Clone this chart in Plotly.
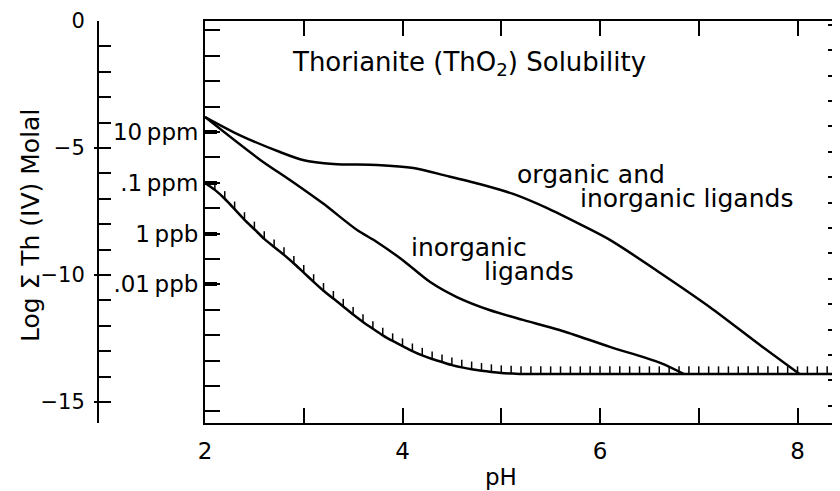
import plotly.graph_objects as go

# lower solubility limit (thorianite alone), read every 0.1 pH
ph_lower = [2.0, 2.1, 2.2, 2.3, 2.4, 2.5, 2.6, 2.7, 2.8, 2.9,
            3.0, 3.1, 3.2, 3.3, 3.4, 3.5, 3.6, 3.7, 3.8, 3.9,
            4.0, 4.1, 4.2, 4.3, 4.4, 4.5, 4.6, 4.7, 4.8, 4.9,
            5.0, 5.1, 5.2, 5.3, 5.4, 5.5, 5.6, 5.7, 5.8, 5.9,
            6.0, 6.1, 6.2, 6.3, 6.4, 6.5, 6.6, 6.7, 6.8, 6.9,
            7.0, 7.1, 7.2, 7.3, 7.4, 7.5, 7.6, 7.7, 7.8, 7.9,
            8.0, 8.1, 8.2, 8.3, 8.4]
log_lower = [-6.38, -6.65, -7.00, -7.41, -7.83, -8.20, -8.58, -8.90, -9.21, -9.55,
             -9.91, -10.27, -10.62, -10.93, -11.24, -11.56, -11.85, -12.12, -12.38, -12.60,
             -12.80, -13.00, -13.17, -13.31, -13.43, -13.55, -13.64, -13.71, -13.77, -13.82,
             -13.86, -13.88, -13.90, -13.90, -13.90, -13.90, -13.90, -13.90, -13.90, -13.90,
             -13.90, -13.90, -13.90, -13.90, -13.90, -13.90, -13.90, -13.90, -13.90, -13.90,
             -13.90, -13.90, -13.90, -13.90, -13.90, -13.90, -13.90, -13.90, -13.90, -13.90,
             -13.90, -13.90, -13.90, -13.90, -13.90]

# organic and inorganic ligands
ph_org = [2.00, 2.35, 2.76, 2.99, 3.30, 3.74, 4.11, 4.45, 4.78, 5.12,
          5.46, 5.80, 6.10, 6.61, 7.11, 7.62, 8.02]
log_org = [-3.78, -4.49, -5.16, -5.47, -5.63, -5.67, -5.79, -6.10, -6.42, -6.81,
           -7.36, -8.01, -8.62, -9.92, -11.26, -12.76, -13.90]

# inorganic ligands only
ph_inorg = [2.00, 2.56, 2.86, 3.19, 3.54, 3.74, 4.00, 4.28, 4.55, 4.88,
            5.22, 5.59, 6.10, 6.61, 6.85]
log_inorg = [-3.78, -5.47, -6.26, -7.17, -8.23, -8.70, -9.41, -10.28, -10.87, -11.38,
             -11.77, -12.17, -12.83, -13.46, -13.90]

ppm_vals = [-4.37, -6.37, -8.37, -10.37]
ppm_text = ['10\u2009ppm', '.1\u2009ppm', '1\u2009ppb', '.01\u2009ppb']

log_ticks = list(range(0, -16, -1))
log_text = ['0' if v == 0 else ('\u2212' + str(-v) if v % 5 == 0 else '') for v in log_ticks]

ph_ticks = [2, 3, 4, 5, 6, 7, 8]
ph_text = ['2', '', '4', '', '6', '', '8']

FONT = 'DejaVu Sans'
YR = [-15.83, 0]

hatch_x, hatch_y = [], []
for x, y in zip(ph_lower[1:], log_lower[1:]):
    hatch_x += [x, x, None]
    hatch_y += [y, y + 0.3, None]

fig = go.Figure()
fig.add_trace(go.Scatter(x=ph_org, y=log_org, mode='lines',
                         line=dict(color='black', width=2.5, shape='spline', smoothing=0.8)))
fig.add_trace(go.Scatter(x=ph_inorg, y=log_inorg, mode='lines',
                         line=dict(color='black', width=2.5, shape='spline', smoothing=0.8)))
fig.add_trace(go.Scatter(x=ph_lower, y=log_lower, mode='lines',
                         line=dict(color='black', width=2.5, shape='spline', smoothing=0.5)))
fig.add_trace(go.Scatter(x=hatch_x, y=hatch_y, mode='lines',
                         line=dict(color='black', width=1.5)))
fig.add_trace(go.Scatter(x=[None], y=[None], yaxis='y2', mode='lines'))
fig.add_trace(go.Scatter(x=[None], y=[None], yaxis='y3', mode='lines'))
fig.add_trace(go.Scatter(x=[None], y=[None], yaxis='y4', mode='lines'))

# page body has an 8px margin, so the figure is sized/offset to compensate
fig.update_layout(
    template='none',
    width=832, height=483,
    margin=dict(l=90, r=0, t=13, b=68),
    paper_bgcolor='white', plot_bgcolor='white',
    showlegend=False,
    font=dict(family=FONT, color='black', size=20),
    xaxis=dict(domain=[0.1442, 1], range=[2, 8.43], showline=True, linecolor='black',
               linewidth=2, mirror='ticks', ticks='inside', ticklen=15, tickwidth=1.5,
               tickcolor='black', tickvals=ph_ticks, ticktext=ph_text, showgrid=False,
               zeroline=False, tickfont=dict(size=23), ticklabelstandoff=6, automargin=False),
    yaxis=dict(range=YR, showline=True, linecolor='black', linewidth=2, ticks='inside',
               ticklen=12, tickwidth=4, tickcolor='black', tickvals=ppm_vals, ticktext=ppm_text,
               minor=dict(tickvals=[-0.37 - i for i in range(16)], ticks='inside', ticklen=15,
                          tickwidth=1.5, tickcolor='black'),
               showgrid=False, zeroline=False, tickfont=dict(size=23), automargin=False),
    yaxis2=dict(overlaying='y', anchor='free', position=0, side='left', range=YR,
                showline=True, linecolor='black', linewidth=2, ticks='inside', ticklen=12,
                tickwidth=1.5, tickcolor='black', tickvals=log_ticks, ticktext=log_text,
                showgrid=False, zeroline=False, tickfont=dict(size=21),
                ticklabelstandoff=8, automargin=False),
    yaxis3=dict(overlaying='y', anchor='free', position=1, side='right', range=YR,
                showline=False, ticks='inside', ticklen=12, tickwidth=1.5, tickcolor='black',
                tickvals=[-0.15 - i for i in range(16)], showticklabels=False,
                showgrid=False, zeroline=False, automargin=False),
    yaxis4=dict(overlaying='y', anchor='free', position=0, side='left', range=YR,
                showline=False, ticks='outside', ticklen=4, tickwidth=1.5, tickcolor='black',
                tickvals=[-5, -10, -15], showticklabels=False,
                showgrid=False, zeroline=False, automargin=False),
)

ann = dict(showarrow=False, font=dict(family=FONT, color='black', size=25))
fig.add_annotation(x=2.86, y=-1.69, xanchor='left', yanchor='middle',
                   text='Thorianite (ThO<sub>2</sub>) Solubility',
                   showarrow=False, font=dict(family=FONT, color='black', size=26))
fig.add_annotation(x=5.14, y=-6.06, xanchor='left', yanchor='middle', text='organic and', **ann)
fig.add_annotation(x=5.78, y=-6.97, xanchor='left', yanchor='middle', text='inorganic ligands', **ann)
fig.add_annotation(x=4.07, y=-8.9, xanchor='left', yanchor='middle', text='inorganic', **ann)
fig.add_annotation(x=4.80, y=-9.88, xanchor='left', yanchor='middle', text='ligands', **ann)
fig.add_annotation(x=5.0, xref='x', y=-0.134, yref='paper', xanchor='center', yanchor='middle',
                   text='pH', showarrow=False, font=dict(family=FONT, color='black', size=23))
fig.add_annotation(x=-0.0916, xref='paper', y=0.49, yref='paper', xanchor='center',
                   yanchor='middle', textangle=-90, text='Log \u03a3 Th (IV) Molal',
                   showarrow=False, font=dict(family=FONT, color='black', size=25))

fig.write_html('out.html')
